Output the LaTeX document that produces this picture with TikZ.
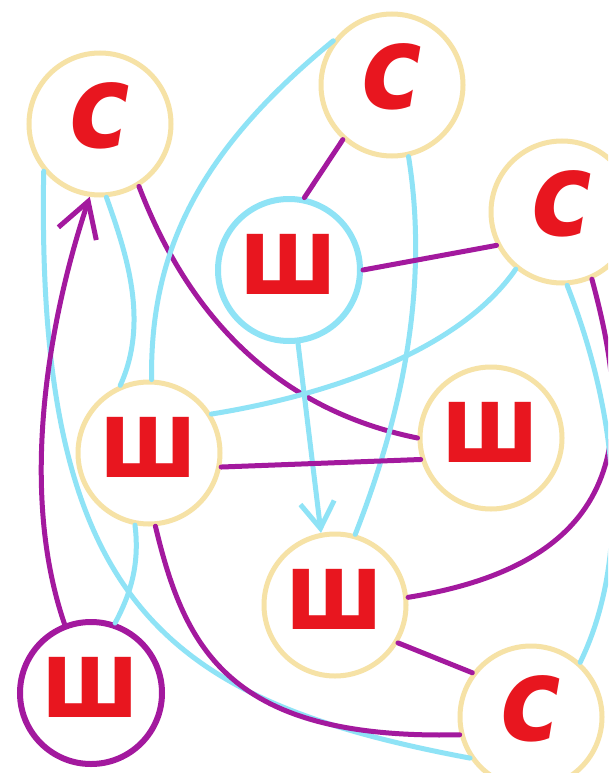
\documentclass[tikz,border=0pt]{standalone}
\usepackage{fontspec}
\newfontfamily\letterfont{DejaVu Sans}
\usetikzlibrary{arrows.meta}
\definecolor{paleyellow}{HTML}{F6E2A6}
\definecolor{skyline}{HTML}{8FE3F6}
\definecolor{plum}{HTML}{A3199E}
\definecolor{letterred}{HTML}{E8161F}
\newcommand{\shglyph}{\raisebox{6pt}[\height][\depth]{\scalebox{0.84}[1]{ш}}}
\newcommand{\cglyph}{\raisebox{8pt}[\height][\depth]{\scalebox{0.88}[1]{с}}}
\begin{document}
\begin{tikzpicture}[
    x=1pt, y=-1pt,
    shletter/.style={circle, draw=paleyellow, line width=5pt, minimum size=142pt, inner sep=0pt,
        text=letterred, font=\letterfont\bfseries\fontsize{110}{110}\selectfont},
    cletter/.style={shletter, font=\letterfont\bfseries\itshape\fontsize{116}{116}\selectfont},
    sky/.style={draw=skyline, line width=5pt, line cap=round},
    plumline/.style={draw=plum, line width=5pt, line cap=round}
]
\useasboundingbox (0,0) rectangle (608,773);
\clip (0,0) rectangle (608,773);
\fill[white] (0,0) rectangle (608,773);
\node[cletter] (c1) at (100,124) {\cglyph};
\node[cletter] (c2) at (392,85) {\cglyph};
\node[cletter] (c3) at (562,212) {\cglyph};
\node[shletter, draw=skyline, line width=6pt] (sh1) at (289,270) {\shglyph};
\node[shletter] (sh2) at (149,453) {\shglyph};
\node[shletter] (sh3) at (491,438) {\shglyph};
\node[shletter] (sh4) at (335,605) {\shglyph};
\node[shletter, draw=plum, line width=6pt] (sh5) at (91,693) {\shglyph};
\node[cletter] (c4) at (531,717) {\cglyph};
\draw[sky] (c1.220) .. controls (36,600) and (160,700) .. (c4.214);
\draw[plumline, -{Straight Barb[length=34pt,width=40pt]}] (sh5.111) .. controls (15,480) and (55,300) .. (c1.262);
\draw[sky] (c1.275) .. controls (125,250) and (150,320) .. (sh2.113);
\draw[plumline] (c1.302) .. controls (190,320) and (280,410) .. (sh3.180);
\draw[sky] (c2.143) .. controls (200,150) and (150,250) .. (sh2.88);
\draw[plumline] (c2.228) -- (sh1.78);
\draw[sky] (c2.283) .. controls (430,290) and (400,420) .. (sh4.74);
\draw[plumline] (sh1.0) -- (c3.207);
\draw[sky] (c3.231) .. controls (460,350) and (330,395) .. (sh2.32);
\draw[plumline] (c3.294) .. controls (630,420) and (640,560) .. (sh4.6);
\draw[sky] (c3.274) .. controls (620,420) and (630,560) .. (c4.48);
\draw[sky, -{Straight Barb[length=26pt,width=34pt]}] (sh1.277) -- (sh4.101);
\draw[plumline] (sh2.349) -- (sh3.197);
\draw[sky] (sh2.259) .. controls (140,565) and (130,595) .. (sh5.71);
\draw[plumline] (sh2.275) .. controls (185,650) and (230,740) .. (c4.194);
\draw[plumline] (sh4.329) -- (c4.143);
\end{tikzpicture}
\end{document}
